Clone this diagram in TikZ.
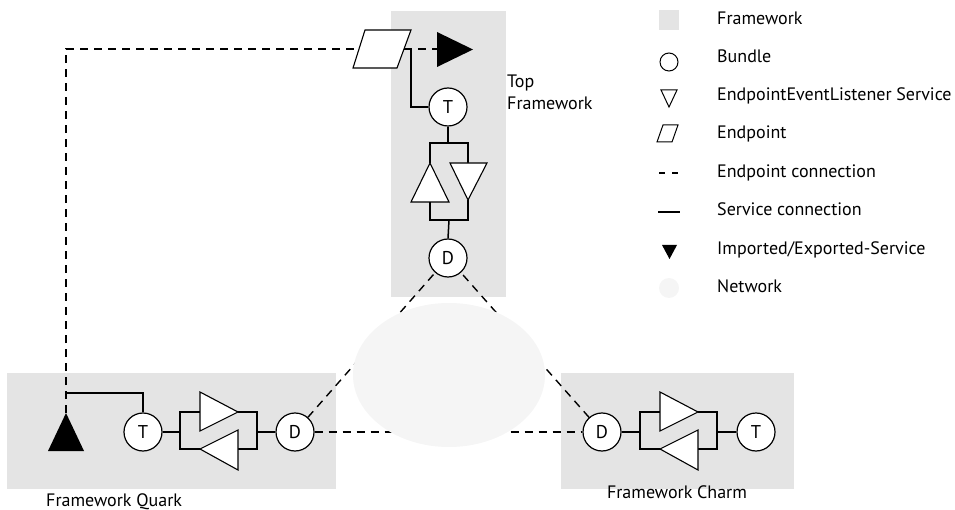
\documentclass[tikz,border=0pt]{standalone}
\usepackage{fontspec}
\setmainfont{PT Sans}
\usetikzlibrary{calc,shapes.geometric}
\definecolor{fwgray}{HTML}{E4E4E4}
\definecolor{netgray}{HTML}{F5F5F5}
\tikzset{
  fwbox/.style={fill=fwgray, draw=none},
  bundle/.style={circle, draw, fill=white, line width=1.2pt, minimum size=38pt, inner sep=0pt, font=\fontsize{18.5}{21}\selectfont},
  svc/.style={line width=1.5pt},
  epc/.style={line width=1.4pt, dash pattern=on 8pt off 6pt},
  tri/.style={draw, fill=white, line width=1.1pt, line join=miter},
  lbl/.style={font=\fontsize{18}{21}\selectfont, inner sep=0pt},
}
\begin{document}
\begin{tikzpicture}[x=1pt,y=-1pt]
\useasboundingbox (0,0) rectangle (955,510);
% framework boxes
\path[fwbox] (391,11) rectangle (506,297);
\path[fwbox] (7,373) rectangle (336,489);
\path[fwbox] (561,373) rectangle (794,489);

% bundles
\node[bundle] (Ttop) at (448,107) {T};
\node[bundle] (Dtop) at (448,258) {D};
\node[bundle] (Tq) at (143,432) {T};
\node[bundle] (Dq) at (295,432) {D};
\node[bundle] (Dc) at (602,432) {D};
\node[bundle] (Tc) at (756,432) {T};

% network connections (under the network ellipse)
\draw[epc] (Dq) -- (Dc);
\draw[epc] (Dq) -- (Dtop);
\draw[epc] (Dc) -- (Dtop);
\node[ellipse, fill=netgray, minimum width=192pt, minimum height=144pt, inner sep=0pt] (net) at (449,375) {};

% endpoint
\coordinate (ep) at (382,49);
\draw[fill=white, line width=1.1pt] (365,30) -- (411,30) -- (397,68) -- (353,68) -- cycle;
\coordinate (epL) at (359,49);
\coordinate (epR) at (404,49);
% imported/exported services
\coordinate (expT) at (437,49);
\fill (437,32) -- (473,49.5) -- (437,67) -- cycle;
\coordinate (impQ) at (66,413);
\fill (66,413) -- (84,451) -- (48,451) -- cycle;

% endpoint connections
\draw[epc] (impQ) -- (66,49) -- (epL);
\draw[epc] (epR) -- (expT);

% service connections top
\draw[svc] (411,49) -- (411,107) -- (Ttop.west);
\draw[svc] (Ttop.south) -- (448,143);
\draw[svc] (430,163) -- (430,143) -- (468,143) -- (468,163);
\draw[svc] (430,202) -- (430,220) -- (468,220) -- (468,200);
\draw[svc] (449,220) -- (Dtop.north);
\draw[tri] (430,163) -- (449,202) -- (411,202) -- cycle;
\draw[tri] (450,163) -- (487,163) -- (468,200) -- cycle;

% service connections Quark
\draw[svc] (66,393) -- (143,393) -- (Tq.north);
\draw[svc] (Tq.east) -- (180,432);
\draw[svc] (200,412) -- (180,412) -- (180,449) -- (200,449);
\draw[svc] (238,412) -- (257,412) -- (257,449) -- (238,449);
\draw[svc] (257,432) -- (Dq.west);
\draw[tri] (200,392) -- (238,412) -- (200,431) -- cycle;
\draw[tri] (238,430) -- (238,470) -- (200,449) -- cycle;

% service connections Charm
\draw[svc] (Dc.east) -- (640,432);
\draw[svc] (660,412) -- (640,412) -- (640,449) -- (660,449);
\draw[svc] (698,412) -- (717,412) -- (717,449) -- (698,449);
\draw[svc] (717,432) -- (Tc.west);
\draw[tri] (660,392) -- (698,412) -- (660,431) -- cycle;
\draw[tri] (698,430) -- (698,470) -- (660,449) -- cycle;

% framework labels
\node[lbl, anchor=base west, align=left] (ltop) at (507,110) {Top\\[1pt]Framework};
\node[lbl, anchor=base west] (lq) at (46,506) {Framework Quark};
\node[lbl, anchor=base] (lc) at (677,498) {Framework Charm};

% legend
\path[fwbox] (659,10) rectangle (679,30);
\draw[line width=1pt] (669,62) circle (9);
\draw[line width=1pt] (661,90) -- (677,90) -- (669,107) -- cycle;
\draw[line width=1pt] (663,125) -- (678,125) -- (672,142) -- (657,142) -- cycle;
\draw[line width=1.3pt] (659,173) -- (665,173) (672,173) -- (678,173);
\draw[line width=1.5pt] (658,212) -- (680,212);
\fill (662,245) -- (677,245) -- (669.5,259) -- cycle;
\fill[netgray] (669,288) circle (10);
\node[lbl, anchor=base west] (g1) at (717,25) {Framework};
\node[lbl, anchor=base west] (g2) at (717,63) {Bundle};
\node[lbl, anchor=base west] (g3) at (717,101) {EndpointEventListener Service};
\node[lbl, anchor=base west] (g4) at (717,139) {Endpoint};
\node[lbl, anchor=base west] (g5) at (717,178) {Endpoint connection};
\node[lbl, anchor=base west] (g6) at (717,216) {Service connection};
\node[lbl, anchor=base west] (g7) at (717,255) {Imported/Exported-Service};
\node[lbl, anchor=base west] (g8) at (717,293) {Network};
\end{tikzpicture}
\end{document}
